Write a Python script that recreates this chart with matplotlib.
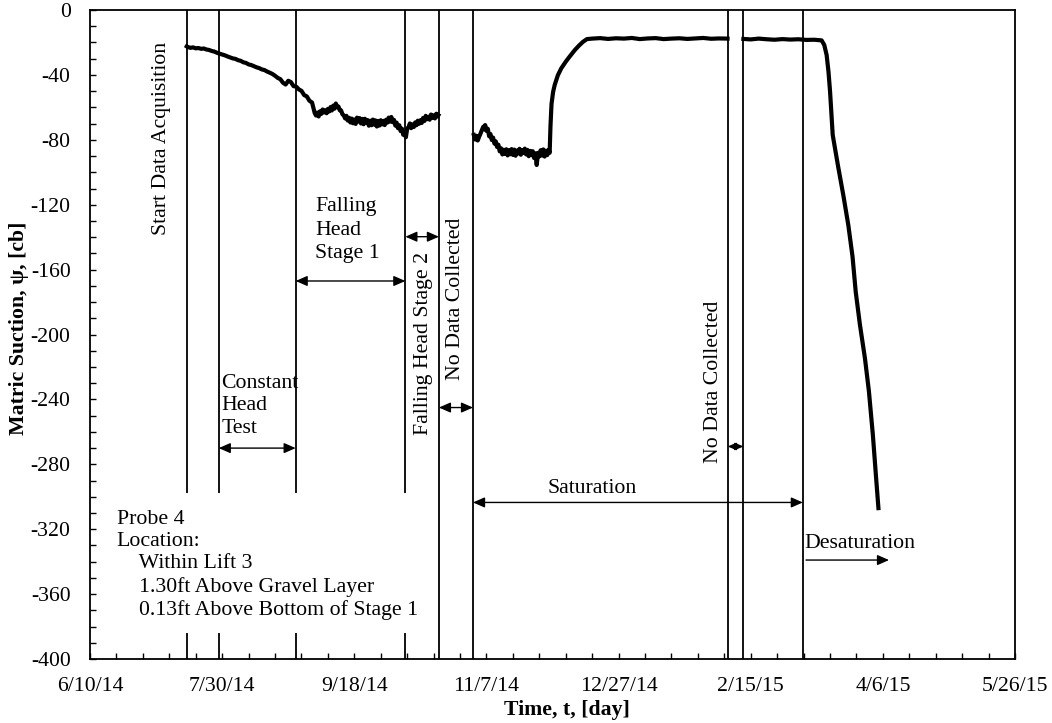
import numpy as np
import pandas as pd
import matplotlib
matplotlib.use("Agg")
from matplotlib import pyplot as plt
from matplotlib.patches import Rectangle
import matplotlib.dates as mdates

plt.rcParams['font.family'] = ['Liberation Serif', 'DejaVu Serif']
plt.rcParams['font.size'] = 15.7
plt.rcParams['axes.unicode_minus'] = False

# x axis: dates, values counted as days after 6/10/14
start = pd.Timestamp('2014-06-10')
tick_labels = ['6/10/14', '7/30/14', '9/18/14', '11/7/14', '12/27/14',
               '2/15/15', '4/6/15', '5/26/15']

# probe 4 readings, first block (before the first data gap)
seg1_days = [36.6, 37, 38, 39, 40, 41, 42, 43, 44, 45, 46, 47, 48, 49, 50,
             51, 52, 53, 54, 55, 56, 57, 58, 59, 60, 61, 62, 63, 64, 65, 66,
             67, 68, 69, 70, 71, 72, 73, 74, 75, 76, 77, 78, 79, 80, 81, 82,
             83, 84,
             85, 85.5, 86, 86.5, 87, 87.5, 88, 88.5, 89, 89.5, 90, 90.5, 91,
             91.5, 92, 92.5, 93, 93.5, 94, 94.5, 95, 95.5,
             96, 96.5, 97, 97.5, 98, 98.5, 99, 99.5, 100, 100.5, 101, 101.5,
             102, 102.5, 103, 103.5, 104, 104.5, 105, 105.5, 106, 106.5, 107,
             107.5, 108, 108.5, 109, 109.5, 110, 110.5, 111, 111.5, 112, 112.5,
             113, 113.5, 114, 114.5, 115, 115.5, 116, 116.5, 117, 117.5, 118,
             118.5, 119, 119.5, 120, 120.5, 121, 121.5, 122, 122.5, 123, 123.5,
             124, 124.5, 125, 125.5, 126, 126.5, 127, 127.5, 128, 128.5, 129,
             129.5, 130, 130.5, 131, 131.5, 131.8]
seg1_psi = [-22.4, -22.8, -23.3, -23.0, -23.6, -23.4, -23.9, -23.7, -24.3,
            -24.6, -25.2, -25.6, -26.3, -26.9, -27.4, -27.9, -28.6, -29.2,
            -29.8, -30.1, -30.9, -31.3, -32.2, -32.6, -33.5, -33.9, -34.6,
            -35.3, -35.8, -36.6, -37.0, -37.9, -38.6, -39.4, -40.5, -41.8,
            -42.6, -44.8, -45.9, -43.6, -44.4, -46.9, -47.2, -48.9, -49.8,
            -52.4, -53.2, -55.9, -57.0,
            -63.5, -65.0, -63.2, -65.6, -62.4, -64.0, -61.3, -63.1, -61.8,
            -63.6, -60.9, -62.5, -59.8, -61.9, -58.9, -60.8, -57.6, -59.9,
            -59.5, -61.8, -61.9, -64.3,
            -64.9, -66.8, -65.2, -68.1, -66.4, -69.3, -66.9, -69.8, -67.5,
            -70.2, -66.3, -68.7, -66.6, -69.9, -67.1, -70.4, -67.0, -69.6,
            -67.8, -71.3, -68.2, -71.0, -67.5, -70.6, -68.0, -71.8, -68.4,
            -71.2, -67.9, -70.5, -68.3, -70.9, -67.6, -69.4, -66.3, -68.8,
            -65.9, -69.1, -67.7, -71.2, -69.4, -72.8, -71.0, -74.6, -73.1,
            -76.9, -75.2, -78.4, -73.0, -72.2, -69.9, -72.8, -70.5, -72.1,
            -69.3, -71.0, -68.2, -70.1, -67.9, -69.6, -66.5, -68.4, -65.2,
            -67.3, -65.8, -67.6, -64.4, -66.5, -64.9, -66.8, -63.9, -65.6,
            -64.8]

# second block (saturation)
seg2_days = [145.2, 145.7, 146.2, 146.7, 147.2, 147.7, 148.3, 148.8, 149.2,
             149.5, 150, 150.5, 151, 151.5, 152, 152.5, 153, 153.5, 154, 154.5,
             155, 155.5, 156, 156.5, 157, 157.5, 158, 158.5, 159, 159.5, 160,
             160.5, 161, 161.5, 162, 162.5, 163, 163.5, 164, 164.5, 165, 165.5,
             166, 166.5, 167, 167.5, 168, 168.5, 169, 169.5, 170, 170.5, 171,
             171.5, 172, 172.5, 173, 173.5, 173.9,
             174.2, 174.6, 175.2, 175.8, 177, 178.3, 180, 181.5, 183.4, 185,
             186.5, 188, 190, 193, 196, 199, 202, 205, 208, 211, 214, 217, 220,
             223, 226, 229, 232, 235, 238, 241.2]
seg2_psi = [-77.0, -79.8, -77.5, -80.4, -78.1, -76.3, -73.8, -71.9, -73.5,
            -70.9, -74.5, -73.2, -77.8, -76.4, -80.1, -78.6, -82.3, -80.9,
            -84.4, -83.0, -87.1, -85.2, -89.0, -86.1, -88.7, -85.8, -89.6,
            -86.4, -88.9, -85.7, -89.3, -86.0, -89.8, -86.6, -88.4, -85.5,
            -89.2, -86.3, -88.1, -85.4, -89.0, -86.2, -90.1, -86.8, -89.4,
            -87.0, -91.2, -88.3, -95.5, -88.0, -90.2, -86.4, -89.7, -85.9,
            -90.3, -86.7, -89.4, -86.1, -88.0,
            -72.0, -58.0, -50.5, -46.2, -40.2, -35.9, -31.8, -28.6, -24.7,
            -21.9, -19.6, -17.9, -17.6, -17.3, -17.8, -17.4, -17.6, -17.2,
            -17.9, -17.5, -17.3, -17.9, -17.6, -17.4, -17.8, -17.5, -17.2,
            -17.7, -17.5, -17.6]

# third block (end of saturation, desaturation)
seg3_days = [247.2, 250, 253, 256, 259, 262, 265, 268, 271, 274, 276.8,
             277.8, 278.7, 279.4, 280, 281, 283, 285, 286.9, 288.5, 289.7,
             291.3, 293.2, 294.7, 296.2, 297.4, 298.3]
seg3_psi = [-17.8, -18.1, -17.6, -18.0, -18.3, -17.9, -18.2, -18.0, -18.4,
            -18.3, -18.7, -21.5, -27.7, -38.0, -50.3, -77.0, -96.0, -114.0,
            -132.5, -152.0, -173.6, -194.0, -214.7, -235.0, -262.0, -288.0,
            -307.0]

# stage boundaries (days after 6/10/14)
event_days = [36.6, 48.7, 77.8, 119.3, 132.0, 144.9, 241.3, 247.2, 269.7]


def to_num(days):
    return mdates.date2num(start) + np.asarray(days, dtype=float)


fig = plt.figure(figsize=(10.52, 7.23), dpi=100)
ax = fig.add_axes([0.0856, 0.0885, 0.8793, 0.8976])

for d in event_days:
    ax.axvline(to_num(d), color='black', lw=1.3, zorder=1)

for dd, pp in [(seg1_days, seg1_psi), (seg2_days, seg2_psi), (seg3_days, seg3_psi)]:
    ax.plot(to_num(dd), pp, color='black', lw=3, zorder=2)

tick_dates = pd.to_datetime(tick_labels, format='%m/%d/%y')
xt = mdates.date2num(tick_dates)
ax.set_xlim(xt[0], xt[-1])
ax.set_xticks(xt)
ax.set_xticklabels(tick_labels)
ax.set_xticks(np.arange(xt[0], xt[-1] + 1, 10), minor=True)
ax.set_ylim(-400, 0)
ax.set_yticks(np.arange(-400, 1, 40))
ax.set_yticks(np.arange(-400, 1, 10), minor=True)
ax.tick_params(which='both', direction='in', length=4.3, width=1)
ax.tick_params(axis='y', which='major', pad=14)
ax.tick_params(axis='x', which='major', pad=13)
for s in ax.spines.values():
    s.set_linewidth(1.3)

ax.set_xlabel('Time, t, [day]', fontweight='bold')
ax.set_ylabel('Matric Suction, \u03c8, [cb]', fontweight='bold')
ax.xaxis.set_label_coords(0.516, -0.063)
ax.yaxis.set_label_coords(-0.066, 0.51)

# annotations
ax.text(to_num(27.1), -79, 'Start Data Acquisition', rotation=90,
        ha='center', va='center')
ax.text(to_num(49.6), -244, 'Constant\nHead\nTest', ha='left', va='center',
        linespacing=1.24)
ax.text(to_num(85.3), -135.6, 'Falling\nHead\nStage 1', ha='left', va='center',
        linespacing=1.3)
ax.text(to_num(126.0), -149, 'Falling Head Stage 2', rotation=90,
        ha='center', va='top')
ax.text(to_num(138.1), -128, 'No Data Collected', rotation=90,
        ha='center', va='top')
ax.text(to_num(235.8), -179, 'No Data Collected', rotation=90,
        ha='center', va='top')
ax.text(to_num(190.0), -294.6, 'Saturation', ha='center', va='center')
ax.text(to_num(270.4), -328.7, 'Desaturation', ha='left', va='center')

# white panel behind the probe description
ax.add_patch(Rectangle((0.0, 0.04), 0.364, 0.216, transform=ax.transAxes,
                       fc='white', ec='none', zorder=1.5))
ax.text(to_num(10.1), -342, 'Probe 4\nLocation:\n    Within Lift 3\n'
        '    1.30ft Above Gravel Layer\n    0.13ft Above Bottom of Stage 1',
        ha='left', va='center', linespacing=1.24, zorder=4)

both = dict(arrowstyle='<|-|>,head_length=0.5,head_width=0.22', color='black',
            lw=1, mutation_scale=14, shrinkA=0, shrinkB=0)
one = dict(arrowstyle='-|>,head_length=0.5,head_width=0.22', color='black',
           lw=1, mutation_scale=14, shrinkA=0, shrinkB=0)
for a, b, y in [(48.7, 77.8, -270), (77.8, 119.3, -167), (119.3, 132.0, -139.7),
                (132.0, 144.9, -245), (144.9, 269.7, -303.5)]:
    ax.annotate('', xy=(to_num(b), y), xytext=(to_num(a), y), arrowprops=both)
small = dict(both, mutation_scale=10)
ax.annotate('', xy=(to_num(247.2), -269), xytext=(to_num(241.3), -269),
            arrowprops=small)
ax.annotate('', xy=(to_num(302.3), -339), xytext=(to_num(270.9), -339),
            arrowprops=one)

fig.savefig('out.png', dpi=100)
